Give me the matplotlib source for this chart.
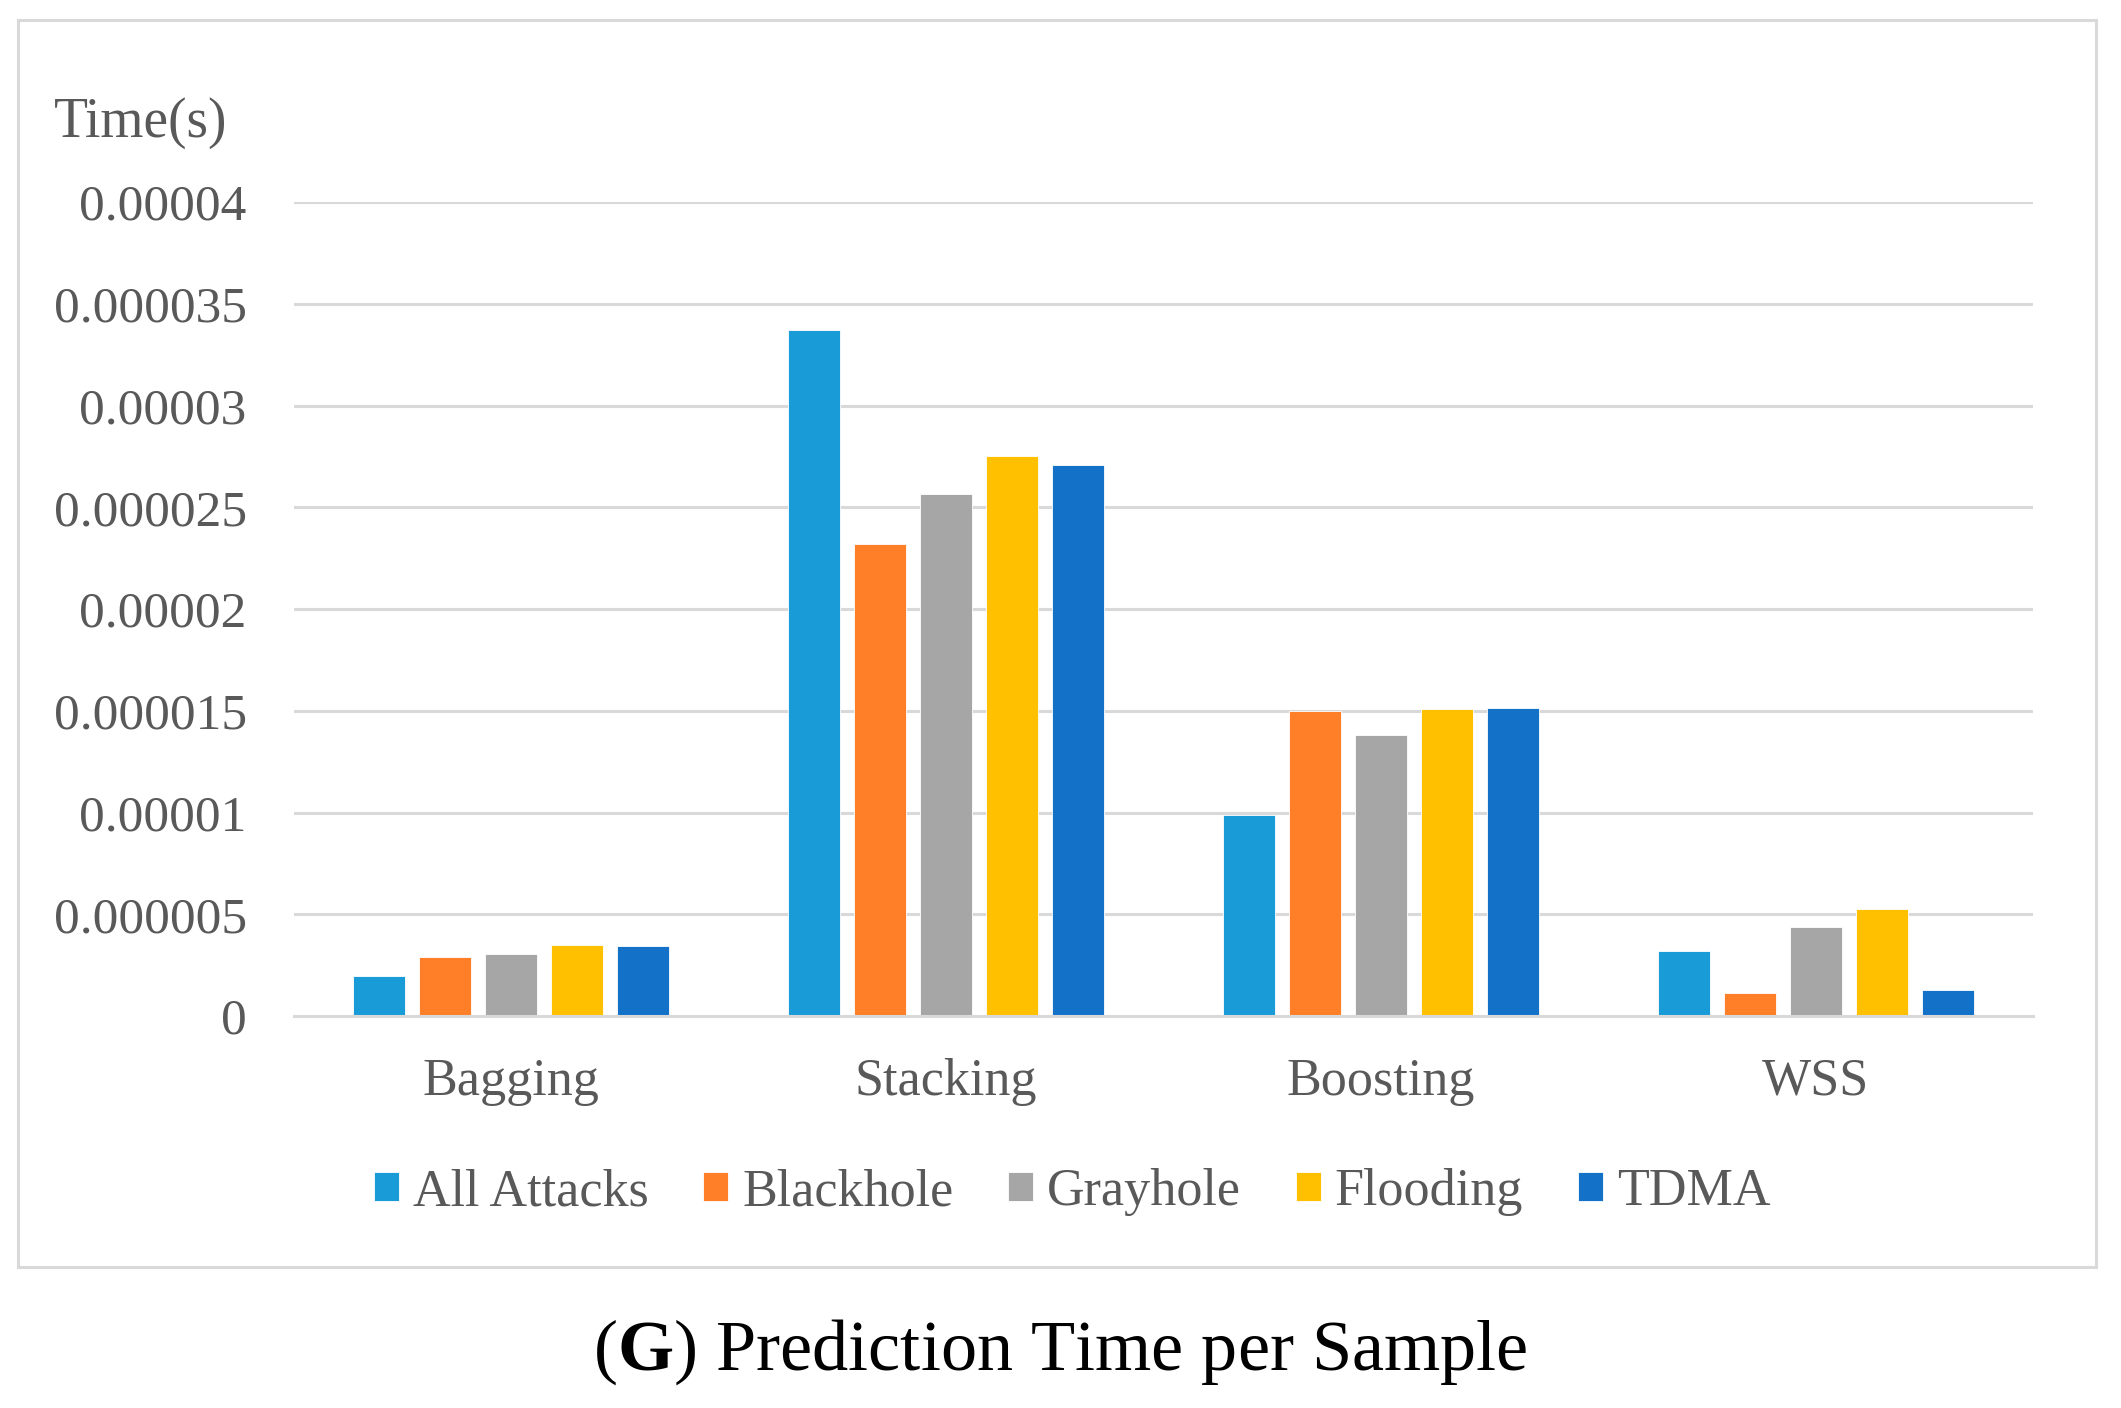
import numpy as np
import matplotlib
matplotlib.use("Agg")
import matplotlib.pyplot as plt
from matplotlib.patches import Rectangle


OUTPUT_FILE = "out.png"

methods = ["Bagging", "Stacking", "Boosting", "WSS"]
attack_names = ["All Attacks", "Blackhole", "Grayhole", "Flooding", "TDMA"]

all_attacks = [1.95e-6, 3.37e-5, 9.9e-6, 3.18e-6]
blackhole = [2.9e-6, 2.32e-5, 1.50e-5, 1.14e-6]
grayhole = [3.05e-6, 2.565e-5, 1.38e-5, 4.38e-6]
flooding = [3.5e-6, 2.75e-5, 1.51e-5, 5.27e-6]
tdma = [3.45e-6, 2.71e-5, 1.515e-5, 1.28e-6]

y_ticks = [0, 0.000005, 0.00001, 0.000015, 0.00002, 0.000025, 0.00003, 0.000035, 0.00004]
y_tick_labels = ["0", "0.000005", "0.00001", "0.000015", "0.00002",
                 "0.000025", "0.00003", "0.000035", "0.00004"]

colors = ["#189BD7", "#FE7F28", "#A6A6A6", "#FFC000", "#1372C8"]

TEXT_GRAY = "#595959"
GRID_GRAY = "#D9D9D9"


def plot_chart():
    plt.rcParams["font.family"] = ["Liberation Serif", "DejaVu Serif"]
    plt.rcParams["mathtext.fontset"] = "custom"
    plt.rcParams["mathtext.rm"] = "Liberation Serif"
    plt.rcParams["mathtext.bf"] = "Liberation Serif:bold"

    fig = plt.figure(figsize=(21.21, 14.08), dpi=100)

    # outer frame around the chart
    fig.patches.append(Rectangle((0.0085, 0.1001), 0.9797, 0.8857,
                                 transform=fig.transFigure, fill=False,
                                 edgecolor=GRID_GRAY, linewidth=2.2))

    ax = fig.add_axes([0.1386, 0.2784, 0.8199, 0.5781])

    series = [all_attacks, blackhole, grayhole, flooding, tdma]
    x = np.arange(len(methods))
    bar_width = 0.1196
    pitch = 0.1518

    for i, values in enumerate(series):
        offset = (i - 2) * pitch
        ax.bar(x + offset, values, width=bar_width, color=colors[i],
               edgecolor="white", linewidth=0.6, label=attack_names[i],
               zorder=3)

    ax.set_xlim(-0.5, len(methods) - 0.5)
    ax.set_ylim(0, 0.00004)
    ax.set_yticks(y_ticks)
    ax.set_yticklabels(y_tick_labels)
    ax.set_xticks(x)
    ax.set_xticklabels(methods)

    ax.tick_params(axis="y", length=0, pad=34, labelsize=37, labelcolor=TEXT_GRAY)
    ax.tick_params(axis="x", length=0, pad=30, labelsize=37.5, labelcolor=TEXT_GRAY)

    ax.grid(axis="y", color=GRID_GRAY, linewidth=2.2, zorder=0)
    ax.set_axisbelow(True)
    for side in ["top", "right", "left"]:
        ax.spines[side].set_visible(False)
    ax.spines["bottom"].set_color(GRID_GRAY)
    ax.spines["bottom"].set_linewidth(2.2)
    ax.spines["bottom"].set_zorder(4)

    fig.text(0.0255, 0.9027, "Time(s)", fontsize=40, color=TEXT_GRAY,
             ha="left", va="baseline")

    legend = fig.legend(loc="center", bbox_to_anchor=(0.5055, 0.1534), ncol=5,
                        frameon=False, fontsize=37.5, handlelength=0.48,
                        handleheight=0.48, handletextpad=0.27, columnspacing=1.05,
                        borderpad=0)
    for text in legend.get_texts():
        text.set_color(TEXT_GRAY)

    fig.text(0.5, 0.027, r"($\mathbf{G}$) Prediction Time per Sample",
             fontsize=52, color="black", ha="center", va="baseline")

    fig.savefig(OUTPUT_FILE, dpi=100)
    plt.close(fig)


if __name__ == "__main__":
    plot_chart()
